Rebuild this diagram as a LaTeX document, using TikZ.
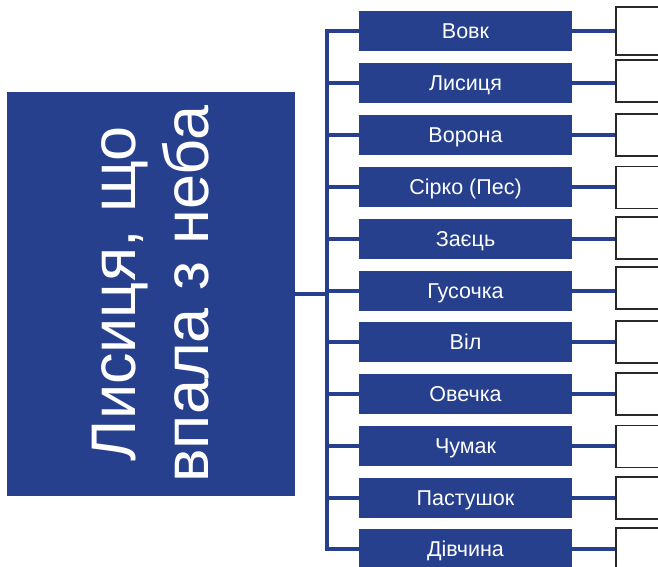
\documentclass[tikz,border=0pt]{standalone}
\usepackage{fontspec}
\setmainfont{Liberation Sans}
\definecolor{dblue}{RGB}{38,64,142}
\definecolor{rborder}{RGB}{40,40,40}
\tikzset{
  mainbox/.style={draw=none, fill=dblue, minimum width=288pt, minimum height=404pt, inner sep=0pt},
  maintext/.style={text=white, font=\fontsize{63}{73}\selectfont, align=center, inner sep=0pt, rotate=90},
  itembox/.style={draw=none, fill=dblue, minimum width=213pt, minimum height=40pt, inner sep=0pt, text=white, font=\fontsize{21.5}{24}\selectfont, text height=15.4pt, text depth=0pt},
  emptybox/.style={draw=rborder, line width=1.3pt, fill=white, minimum width=64pt, minimum height=42pt, inner sep=0pt},
  conn/.style={draw=dblue, line width=3.5pt}
}
\begin{document}
\begin{tikzpicture}[x=1pt,y=-1pt]
\useasboundingbox (0,0) rectangle (658,567);
\clip (0,0) rectangle (658,567);
\node[mainbox] (main) at (151,294) {};
\node[maintext] (title) at (main.center) {Лисиця, що\\впала з неба};
% item boxes
\node[itembox] (b1) at (465.5,31) {Вовк};
\node[itembox] (b2) at (465.5,83) {Лисиця};
\node[itembox] (b3) at (465.5,135) {Ворона};
\node[itembox] (b4) at (465.5,187) {Сірко (Пес)};
\node[itembox] (b5) at (465.5,239) {Заєць};
\node[itembox] (b6) at (465.5,291) {Гусочка};
\node[itembox] (b7) at (465.5,342) {Віл};
\node[itembox] (b8) at (465.5,394) {Овечка};
\node[itembox] (b9) at (465.5,446) {Чумак};
\node[itembox] (b10) at (465.5,498) {Пастушок};
\node[itembox] (b11) at (465.5,549) {Дівчина};
% right empty boxes
\node[emptybox, minimum height=48pt] (r1) at (648,31) {};
\node[emptybox] (r2) at (648,81) {};
\node[emptybox] (r3) at (648,135) {};
\node[emptybox] (r4) at (648,187.5) {};
\node[emptybox] (r5) at (648,238) {};
\node[emptybox] (r6) at (648,288) {};
\node[emptybox] (r7) at (648,342) {};
\node[emptybox] (r8) at (648,394) {};
\node[emptybox] (r9) at (648,446.5) {};
\node[emptybox] (r10) at (648,498) {};
\node[emptybox] (r11) at (648,549) {};
% bus
\coordinate (bt) at (327,31);
\draw[conn] (b1.west) -- (bt) |- (b11.west);
\foreach \i in {2,...,10}{
  \draw[conn] (b\i.west) -- (b\i.west -| bt);
}
\draw[conn] (main.east) -- (main.east -| bt);
\foreach \i in {1,...,11}{
  \draw[conn] (b\i.east) -- (b\i.east -| r\i.west);
}
\end{tikzpicture}
\end{document}
